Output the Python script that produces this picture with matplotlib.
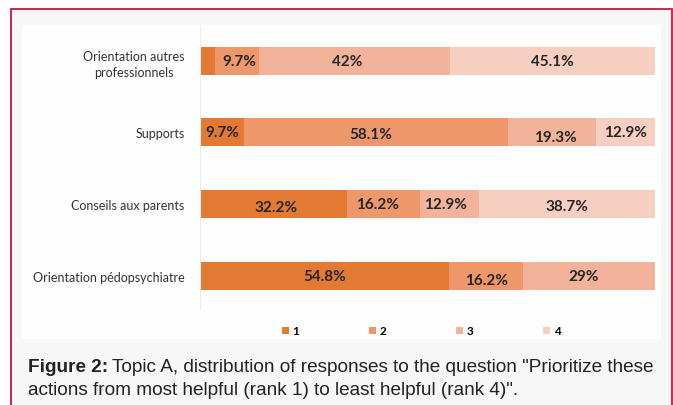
import matplotlib
matplotlib.use("Agg")
from matplotlib import pyplot as plt
from matplotlib.patches import Rectangle, Patch

categories = ["Orientation pédopsychiatre", "Conseils aux parents", "Supports",
              "Orientation autres\nprofessionnels"]
rank1 = [54.8, 32.2, 9.7, 3.2]
rank2 = [16.2, 16.2, 58.1, 9.7]
rank3 = [29.0, 12.9, 19.3, 42.0]
rank4 = [0.0, 38.7, 12.9, 45.1]
labels1 = ["54.8%", "32.2%", "9.7%", ""]
labels2 = ["16.2%", "16.2%", "58.1%", "9.7%"]
labels3 = ["29%", "12.9%", "19.3%", "42%"]
labels4 = ["", "38.7%", "12.9%", "45.1%"]
legend_names = ["1", "2", "3", "4"]

colors = ["#e27a34", "#ee976a", "#f2b39a", "#f6cfc1"]
W, H = 673, 406

fig = plt.figure(figsize=(W / 100, H / 100), dpi=100)
fig.patch.set_facecolor("white")

def px(x0, y0, x1, y1):
    # pixel box (top-left origin) -> figure fraction rect
    return (x0 / W, 1 - y1 / H, (x1 - x0) / W, (y1 - y0) / H)

# frame + panels
b = px(11, 10, 672, 420)
fig.patches.append(Rectangle((b[0], b[1]), b[2], b[3], transform=fig.transFigure,
                             facecolor="#f7f7f7", edgecolor="#c8163e", lw=1.3, zorder=-2))
p = px(22, 26, 661, 340)
fig.patches.append(Rectangle((p[0], p[1]), p[2], p[3], transform=fig.transFigure,
                             facecolor="#fefefe", edgecolor="none", zorder=-1))

ax = fig.add_axes(px(200, 26, 655, 309))
ax.set_zorder(2)
ax.set_facecolor("none")
y = range(len(categories))
series = [rank1, rank2, rank3, rank4]
texts = [labels1, labels2, labels3, labels4]
# small nudges of some labels (points)
nudge = {(2, 2): (2, -3), (0, 1): (0, -3), (1, 0): (2, -2), (2, 1): (-4, -1), (1, 3): (0, -1),
         (3, 1): (2, 0), (3, 2): (-5, 0), (1, 1): (-4, 0), (1, 2): (-3, 0), (0, 2): (-4, 0)}
left = [0.0] * len(categories)
for k, vals in enumerate(series):
    ax.barh(y, vals, left=left, height=0.39, color=colors[k], edgecolor="none",
            label=legend_names[k])
    for i, v in enumerate(vals):
        if texts[k][i]:
            ax.annotate(texts[k][i], (left[i] + v / 2, i), xytext=nudge.get((i, k), (0, 0)),
                        textcoords="offset points", ha="center", va="center",
                        fontsize=11, fontweight="bold", color="#262626", family="Lato")
    left = [l + v for l, v in zip(left, vals)]

ax.set_xlim(0, 100)
ax.set_ylim(-0.45, 3.5)
ax.set_yticks(list(y))
ax.set_yticklabels(categories, fontsize=9, color="#333333", family="Lato", linespacing=1.45,
                   multialignment="center")
ax.tick_params(axis="y", length=0, pad=11)
ax.set_xticks([])
for s in ["top", "right", "bottom"]:
    ax.spines[s].set_visible(False)
ax.spines["left"].set_color("#ececec")
ax.spines["left"].set_linewidth(0.8)

handles = [Patch(facecolor=c, edgecolor="none") for c in colors]
fig.legend(handles, legend_names, loc="center", bbox_to_anchor=(421 / W, 1 - 332 / H),
           ncol=4, frameon=False, handlelength=0.6, handleheight=0.6,
           handletextpad=0.3, columnspacing=5.9,
           prop={"family": "Lato", "weight": "bold", "size": 8.5})

# caption with bold lead
cap_font = "Liberation Sans"
renderer = fig.canvas.get_renderer()
t = fig.text(28 / W, 1 - 372 / H, "Figure 2:", fontsize=13.7, fontweight="bold",
             family=cap_font, color="#222222", va="baseline")
bb = t.get_window_extent(renderer)
fig.text((bb.x1 + 4) / W, 1 - 372 / H,
         'Topic A, distribution of responses to the question "Prioritize these',
         fontsize=13.7, family=cap_font, color="#222222", va="baseline")
fig.text(28 / W, 1 - 395 / H, 'actions from most helpful (rank 1) to least helpful (rank 4)".',
         fontsize=13.7, family=cap_font, color="#222222", va="baseline")

fig.savefig("out.png", dpi=100)
